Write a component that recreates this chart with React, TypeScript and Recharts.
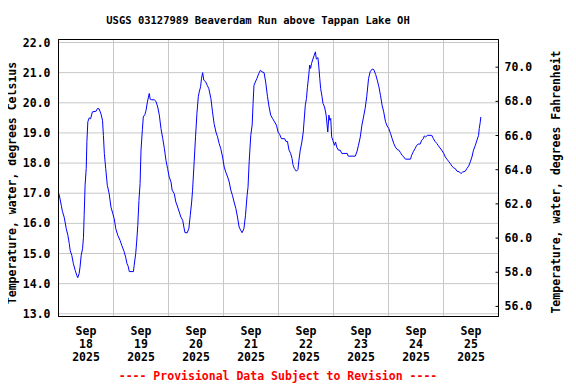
import React from "react";
import { LineChart, Line, XAxis, YAxis, CartesianGrid, ReferenceArea } from "recharts";

// hours since Sep 18 2025 00:00
const hours = [
  0, 0.3, 1.2, 1.7, 2.5, 3.4, 4.1, 4.7, 5.1, 5.8, 6.5, 7.3, 8.0, 8.4, 9.0, 9.4, 9.9, 10.5, 10.9, 11.2,
  11.6, 12.1, 12.4, 12.8, 13.4, 14.0, 14.8, 16.4, 17.0, 17.7, 18.5, 19.2, 19.6, 20.0, 20.6, 21.3, 22.1,
  22.9, 23.7, 24.3, 25.0, 25.9, 26.9, 27.6, 28.6, 29.3, 29.9, 30.4, 30.9, 32.7, 33.0, 33.7, 34.1, 34.6,
  35.1, 35.6, 36.0, 36.6, 37.0, 37.7, 38.2, 38.8, 39.6, 40.0, 40.7, 41.8, 42.5, 43.3, 44.0, 44.7, 45.5,
  46.2, 46.9, 47.6, 48.3, 49.1, 49.6, 50.5, 51.2, 52.0, 52.7, 53.4, 54.2, 54.7, 55.2, 56.2, 56.9, 57.5,
  58.1, 58.5, 59.2, 59.8, 60.4, 61.0, 61.4, 62.0, 62.4, 62.9, 63.4, 64.2, 64.9, 65.6, 66.5, 67.2, 67.9,
  68.7, 69.4, 70.1, 70.8, 71.6, 72.3, 73.0, 73.8, 74.5, 75.2, 75.9, 76.6, 77.4, 78.1, 78.8, 79.5, 80.1,
  80.9, 81.6, 82.3, 82.7, 83.2, 83.9, 84.5, 84.9, 85.3, 85.9, 86.6, 87.4, 88.1, 88.8, 89.7, 90.4, 91.2,
  91.9, 92.6, 93.4, 94.1, 95.1, 95.8, 96.5, 97.3, 98.7, 99.2, 99.9, 100.6, 101.3, 101.9, 102.3, 102.9,
  103.8, 104.5, 104.9, 105.5, 106.2, 106.8, 107.3, 107.7, 108.2, 108.6, 109.2, 109.6, 110.0, 110.4,
  111.0, 111.5, 112.1, 112.5, 113.2, 113.6, 114.0, 114.4, 115.0, 115.4, 116.1, 116.8, 117.5, 118.0,
  118.4, 118.8, 119.2, 119.7, 120.4, 120.9, 121.4, 122.1, 122.9, 123.6, 126.0, 126.4, 129.5, 130.2,
  130.9, 131.7, 132.4, 133.1, 133.8, 134.5, 135.3, 136.0, 136.9, 137.6, 138.4, 139.1, 139.8, 140.5,
  141.2, 141.9, 142.7, 143.4, 144.1, 144.9, 145.6, 146.3, 147.0, 147.8, 148.5, 149.2, 149.9, 150.7,
  151.4, 153.6, 154.1, 154.9, 155.6, 156.3, 157.0, 157.8, 158.5, 159.2, 159.6, 160.2, 161.0, 162.9,
  163.6, 164.3, 165.1, 165.8, 166.5, 167.2, 168.1, 168.8, 169.5, 170.2, 171.0, 171.7, 172.4, 173.1,
  173.9, 174.9, 175.6, 176.3, 177.5, 178.2, 179.0, 179.7, 180.4, 181.1, 181.9, 182.6, 183.3, 183.6,
  184.0, 184.3,
];

const tempC = [
  17.0, 16.95, 16.6, 16.4, 16.2, 15.82, 15.6, 15.33, 15.1, 14.94, 14.66, 14.44, 14.27, 14.2, 14.33, 14.55,
  14.94, 15.16, 15.54, 16.27, 17.26, 17.82, 18.72, 19.37, 19.5, 19.47, 19.7, 19.72, 19.81, 19.8, 19.64,
  19.42, 18.92, 18.32, 17.82, 17.26, 16.99, 16.54, 16.32, 16.16, 15.82, 15.6, 15.43, 15.27, 15.07, 14.88,
  14.66, 14.58, 14.4, 14.4, 14.6, 15.0, 15.38, 15.93, 16.76, 17.32, 18.43, 19.11, 19.53, 19.61, 19.75,
  20.03, 20.31, 20.12, 20.1, 20.1, 20.05, 19.86, 19.59, 19.15, 18.81, 18.48, 18.09, 17.82, 17.54, 17.37,
  17.1, 16.99, 16.71, 16.54, 16.38, 16.21, 16.1, 15.88, 15.69, 15.69, 15.84, 16.27, 16.71, 17.1, 18.04,
  18.87, 19.64, 20.2, 20.36, 20.53, 20.81, 21.0, 20.75, 20.7, 20.58, 20.47, 20.14, 19.7, 19.31, 19.03,
  18.87, 18.65, 18.48, 18.2, 17.87, 17.7, 17.54, 17.37, 17.1, 16.93, 16.71, 16.49, 16.21, 15.88, 15.77,
  15.69, 15.82, 16.27, 16.93, 17.2, 18.04, 18.92, 19.26, 19.98, 20.58, 20.69, 20.81, 20.97, 21.08, 21.03,
  21.0, 20.69, 20.2, 19.86, 19.59, 19.48, 19.39, 19.26, 19.03, 18.95, 18.81, 18.81, 18.72, 18.72, 18.43,
  18.32, 18.15, 17.95, 17.82, 17.73, 17.79, 18.09, 18.43, 18.7, 19.03, 19.53, 19.92, 20.14, 20.5, 20.92,
  21.25, 21.14, 21.3, 21.45, 21.56, 21.69, 21.45, 21.5, 21.19, 20.81, 20.47, 20.2, 19.98, 19.86, 19.59,
  19.03, 19.59, 19.42, 19.48, 18.87, 18.76, 18.59, 18.7, 18.53, 18.43, 18.43, 18.32, 18.32, 18.23, 18.23,
  18.37, 18.59, 18.87, 19.26, 19.53, 19.81, 20.2, 20.81, 21.03, 21.12, 21.1, 20.94, 20.75, 20.53, 20.25,
  19.92, 19.7, 19.37, 19.23, 19.15, 18.98, 18.81, 18.65, 18.53, 18.45, 18.43, 18.35, 18.26, 18.2, 18.13,
  18.13, 18.26, 18.39, 18.48, 18.59, 18.63, 18.63, 18.76, 18.81, 18.9, 18.87, 18.92, 18.92, 18.81, 18.72,
  18.65, 18.57, 18.5, 18.43, 18.32, 18.2, 18.13, 18.06, 17.98, 17.9, 17.84, 17.82, 17.73, 17.71, 17.65,
  17.7, 17.73, 17.82, 17.9, 18.04, 18.2, 18.43, 18.59, 18.76, 18.92, 19.15, 19.34, 19.53,
];

const dayLabels = ["18", "19", "20", "21", "22", "23", "24", "25"];
const labelTicks = [12, 36, 60, 84, 108, 132, 156, 180];
const dayTicks = [24, 48, 72, 96, 120, 144, 168];
const celsiusTicks = [13, 14, 15, 16, 17, 18, 19, 20, 21, 22];
const fahrenheitTicks = [56, 58, 60, 62, 64, 66, 68, 70];
const xDomain = [0, 192];
const cDomain = [12.91, 22.1];
const fDomain = [55.41, 71.62];

const data = hours.map((h, i) => ({ h, c: tempC[i] }));

const font = "'DejaVu Sans Mono', monospace";
const gridColor = "#c8c8c8";
// half width of a midnight gridline in hours: plot is 440px for 192h, so 1px = 24/55 h
const gridHalf = 12 / 55;

function DateTick(props: any) {
  const { x, y, index } = props;
  return (
    <text x={x} y={y} textAnchor="middle" fontFamily={font} fontWeight="bold" fontSize={11.5} fill="#000">
      <tspan x={x} dy={18}>Sep</tspan>
      <tspan x={x} dy={13}>{dayLabels[index]}</tspan>
      <tspan x={x} dy={13}>2025</tspan>
    </text>
  );
}

function RightTick(props: any) {
  const { x, y, payload } = props;
  return (
    <g>
      <line x1={x - 9} x2={x - 6} y1={y} y2={y} stroke="#000" />
      <text x={x} y={y} dy={4} textAnchor="start" fontFamily={font} fontWeight="bold" fontSize={11.5} fill="#000">
        {Number(payload.value).toFixed(1)}
      </text>
    </g>
  );
}

function Vertical({ text, cx, cy }: { text: string; cx: number; cy: number }) {
  return (
    <div style={{ position: "absolute", left: cx, top: cy, width: 0, height: 0 }}>
      <span
        style={{
          position: "absolute",
          whiteSpace: "nowrap",
          transform: "translate(-50%, -50%) rotate(-90deg)",
          fontFamily: font,
          fontWeight: "bold",
          fontSize: 11.5,
          lineHeight: "12px",
        }}
      >
        {text}
      </span>
    </div>
  );
}

export default function App() {
  return (
    <div style={{ position: "relative", width: 560, height: 376 }}>
      <div
        style={{
          position: "absolute",
          left: 0,
          width: 500,
          top: 6,
          textAlign: "center",
          fontFamily: font,
          fontWeight: "bold",
          fontSize: 10.5,
        }}
      >
        USGS 03127989 Beaverdam Run above Tappan Lake OH
      </div>
      <LineChart width={560} height={376} data={data} margin={{ top: 31.5, right: 0.5, left: 0.5, bottom: 0 }}>
        <CartesianGrid yAxisId="c" stroke={gridColor} strokeWidth={1} vertical={false} />
        {dayTicks.map((t) => (
          <ReferenceArea
            key={t}
            x1={t - gridHalf}
            x2={t + gridHalf}
            y1={cDomain[0]}
            y2={cDomain[1]}
            yAxisId="c"
            fill={gridColor}
            fillOpacity={1}
            stroke="none"
            ifOverflow="visible"
          />
        ))}
        <ReferenceArea
          x1={xDomain[0]}
          x2={xDomain[1]}
          y1={cDomain[0]}
          y2={cDomain[1]}
          yAxisId="c"
          fill="none"
          fillOpacity={0}
          stroke="#000"
          strokeWidth={1}
          ifOverflow="visible"
        />
        <XAxis
          orientation="bottom"
          type="number"
          dataKey="h"
          domain={xDomain}
          ticks={labelTicks}
          height={67.5}
          tickSize={0}
          tickMargin={0}
          tickLine={false}
          axisLine={{ stroke: "#000" }}
          tick={<DateTick />}
          interval={0}
          allowDataOverflow
        />
        <YAxis
          yAxisId="c"
          orientation="left"
          width={50}
          domain={cDomain}
          ticks={celsiusTicks}
          tickFormatter={(v: number) => v.toFixed(1)}
          tickSize={0}
          tickMargin={8}
          tickLine={false}
          axisLine={{ stroke: "#000" }}
          interval={0}
          allowDataOverflow
          tick={{ fontFamily: font, fontWeight: "bold", fontSize: 11.5, fill: "#000" }}
        />
        <YAxis
          yAxisId="f"
          orientation="right"
          width={69}
          domain={fDomain}
          ticks={fahrenheitTicks}
          tickSize={0}
          tickMargin={6}
          tickLine={false}
          axisLine={{ stroke: "#000" }}
          interval={0}
          allowDataOverflow
          tick={<RightTick />}
        />
        <Line
          yAxisId="c"
          type="linear"
          dataKey="c"
          stroke="#0000ff"
          strokeWidth={1}
          dot={false}
          isAnimationActive={false}
        />
      </LineChart>
      <Vertical text="Temperature, water, degrees Celsius" cx={4} cy={175} />
      <Vertical text="Temperature, water, degrees Fahrenheit" cx={548} cy={174} />
      <div
        style={{
          position: "absolute",
          left: 0,
          width: 540,
          top: 361,
          textAlign: "center",
          fontFamily: font,
          fontWeight: "bold",
          fontSize: 11.5,
          color: "#ff0000",
          whiteSpace: "nowrap",
        }}
      >
        ---- Provisional Data Subject to Revision ----
      </div>
    </div>
  );
}
